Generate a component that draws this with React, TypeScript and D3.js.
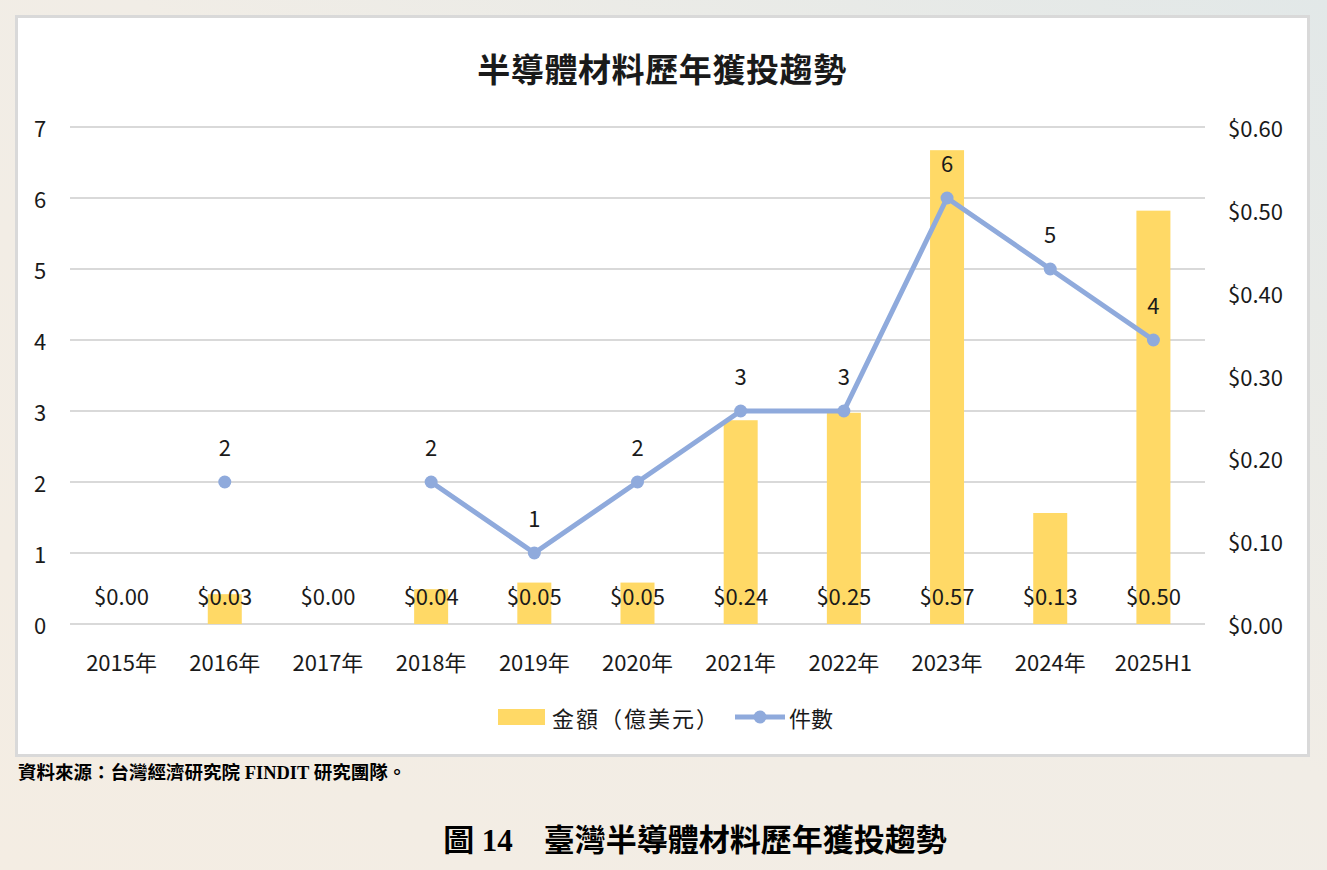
import React from "react";
import * as d3 from "d3";

const categories = ["2015年", "2016年", "2017年", "2018年", "2019年", "2020年", "2021年", "2022年", "2023年", "2024年", "2025H1"];
const amounts = [0.0, 0.03, 0.0, 0.04, 0.05, 0.05, 0.24, 0.25, 0.57, 0.13, 0.5];
const amountBarHeights = [0.0, 0.036, 0.0, 0.042, 0.05, 0.05, 0.246, 0.255, 0.572, 0.134, 0.499];
const counts: (number | null)[] = [null, 2, null, 2, 1, 2, 3, 3, 6, 5, 4];
const leftTicks = [0, 1, 2, 3, 4, 5, 6, 7];
const rightTicks = [0, 0.1, 0.2, 0.3, 0.4, 0.5, 0.6];

const chartTitle = "半導體材料歷年獲投趨勢";
const legendBar = "金額（億美元）";
const legendLine = "件數";
const sourceText = "資料來源：台灣經濟研究院 FINDIT 研究團隊。";
const captionText = "圖 14　臺灣半導體材料歷年獲投趨勢";

const W = 1327;
const H = 870;
const FONT = "'Noto Sans CJK TC', 'Open Sans', sans-serif";
const SERIF = "'Liberation Serif', 'Noto Sans CJK TC', serif";

export default function App() {
  const left = 70, right = 1205, top = 127, bottom = 624;
  const x = d3.scaleBand<string>().domain(categories).range([left, right]).paddingInner(0).paddingOuter(0);
  const yL = d3.scaleLinear().domain([0, 7]).range([bottom, top]);
  const yR = d3.scaleLinear().domain([0, 0.6]).range([bottom, top]);
  const barW = 34;
  const cx = (c: string) => (x(c) as number) + x.bandwidth() / 2;

  const lineGen = d3
    .line<number | null>()
    .defined((d) => d !== null)
    .x((_, i) => cx(categories[i]))
    .y((d) => yL(d as number));

  const fs = 22;

  return (
    <div style={{ position: "fixed", left: 0, top: 0, width: W, height: H, overflow: "hidden" }}>
      <svg width={W} height={H} style={{ display: "block" }}>
        <defs>
          <linearGradient id="bg" x1="0" y1="1" x2="1" y2="0">
            <stop offset="0" stopColor="#f4ede3" />
            <stop offset="0.55" stopColor="#f1ede6" />
            <stop offset="1" stopColor="#e2e8e8" />
          </linearGradient>
        </defs>
        <rect x={0} y={0} width={W} height={H} fill="url(#bg)" />
        <rect x={16.5} y={16.5} width={1292} height={739} fill="#ffffff" stroke="#d9d9d9" strokeWidth={3} />

        <text x={662} y={68} textAnchor="middle" dominantBaseline="central" fontFamily={FONT} fontWeight={700} fontSize={33} letterSpacing={0.6} fill="#1a1a1a">
          {chartTitle}
        </text>

        {leftTicks.map((t) => (
          <line key={"g" + t} x1={left} x2={right} y1={yL(t)} y2={yL(t)} stroke="#d9d9d9" strokeWidth={2} />
        ))}
        {leftTicks.map((t) => (
          <text key={"l" + t} x={40} y={yL(t)} textAnchor="middle" dominantBaseline="central" fontFamily={FONT} fontSize={fs} fill="#1a1a1a">
            {t}
          </text>
        ))}
        {rightTicks.map((t) => (
          <text key={"r" + t} x={1228} y={yR(t)} textAnchor="start" dominantBaseline="central" fontFamily={FONT} fontSize={fs} fill="#1a1a1a">
            {"$" + t.toFixed(2)}
          </text>
        ))}

        {categories.map((c, i) => (
          <rect key={"b" + c} x={cx(c) - barW / 2} y={yR(amountBarHeights[i])} width={barW} height={bottom - yR(amountBarHeights[i])} fill="#ffd966" />
        ))}

        {categories.map((c, i) => (
          <text key={"bl" + c} x={cx(c)} y={595} textAnchor="middle" dominantBaseline="central" fontFamily={FONT} fontSize={fs} fill="#1a1a1a">
            {"$" + amounts[i].toFixed(2)}
          </text>
        ))}

        <path d={lineGen(counts) || ""} fill="none" stroke="#8faadc" strokeWidth={5} strokeLinejoin="round" />
        {counts.map((v, i) =>
          v === null ? null : (
            <g key={"p" + i}>
              <circle cx={cx(categories[i])} cy={yL(v)} r={6.5} fill="#8faadc" />
              <text x={cx(categories[i])} y={yL(v) - 36} textAnchor="middle" dominantBaseline="central" fontFamily={FONT} fontSize={fs} fill="#1a1a1a">
                {v}
              </text>
            </g>
          )
        )}

        {categories.map((c) => (
          <text key={"x" + c} x={cx(c)} y={661} textAnchor="middle" dominantBaseline="central" fontFamily={FONT} fontSize={fs} fill="#1a1a1a">
            {c}
          </text>
        ))}

        <rect x={498} y={709} width={47} height={16} fill="#ffd966" />
        <text x={552} y={717} dominantBaseline="central" fontFamily={FONT} fontSize={fs} letterSpacing={2} fill="#1a1a1a">
          {legendBar}
        </text>
        <line x1={735} x2={785} y1={717} y2={717} stroke="#8faadc" strokeWidth={5} />
        <circle cx={760} cy={717} r={6.5} fill="#8faadc" />
        <text x={789} y={717} dominantBaseline="central" fontFamily={FONT} fontSize={fs} fill="#1a1a1a">
          {legendLine}
        </text>

        <text x={18} y={773} dominantBaseline="central" fontFamily={SERIF} fontWeight={700} fontSize={18.5} fill="#000">
          {sourceText}
        </text>
        <text x={695} y={840} textAnchor="middle" dominantBaseline="central" fontFamily={SERIF} fontWeight={700} fontSize={31} fill="#000">
          {captionText}
        </text>
      </svg>
    </div>
  );
}
